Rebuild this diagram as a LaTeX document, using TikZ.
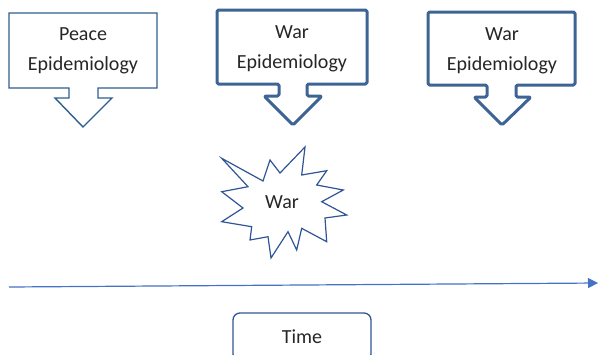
\documentclass[tikz,border=0pt]{standalone}
\usepackage{fontspec}
\setmainfont{Carlito}
\usetikzlibrary{arrows.meta}
\definecolor{calloutblue}{HTML}{2F5F8F}
\definecolor{warblue}{HTML}{3D6494}
\definecolor{burstblue}{HTML}{2F5597}
\definecolor{axisblue}{HTML}{4472C4}
\definecolor{textgray}{HTML}{262626}
\tikzset{
	label/.style={text=textgray,font=\fontsize{20}{30}\selectfont,align=center},
	thincallout/.style={draw=calloutblue,line width=1.4pt,fill=white},
	thickcallout/.style={draw=warblue,line width=3pt,line join=round,rounded corners=1.5pt,fill=white},
	timebox/.style={draw=burstblue,line width=1.3pt,rounded corners=7pt,minimum width=138pt,minimum height=48pt,text=textgray,font=\fontsize{20}{24}\selectfont}
}
\begin{document}
\begin{tikzpicture}[x=1pt,y=-1pt]
	\useasboundingbox (0,0) rectangle (600,354);
	% callouts
	\draw[thincallout] (9,13) -- (157,13) -- (157,88) -- (98,88) -- (98,98) -- (112,98) -- (83,127) -- (55,98) -- (69,98) -- (69,88) -- (9,88) -- cycle;
	\draw[thickcallout] (217,10) -- (367,10) -- (367,84) -- (307,84) -- (307,96) -- (322,96) -- (293,125) -- (264,96) -- (279,96) -- (279,84) -- (217,84) -- cycle;
	\draw[thickcallout] (428,12) -- (575,12) -- (575,85) -- (516,85) -- (516,97) -- (531,97) -- (502,125) -- (474,97) -- (487,97) -- (487,85) -- (428,85) -- cycle;
	\node[label] (peace) at (83,51) {Peace\\Epidemiology};
	\node[label] (war1) at (292,49) {War\\Epidemiology};
	\node[label] (war2) at (502,51) {War\\Epidemiology};
	% explosion
	\draw[burstblue,line width=1.2pt,fill=white] (221.7,158.3) -- (263,181) -- (270,160) -- (280,173) -- (305,147) -- (301.7,175) -- (326.7,170.7) -- (316.7,185) -- (343.3,190) -- (321.7,201.7) -- (346.7,215) -- (325,218) -- (326.7,241.7) -- (301.7,228.3) -- (296.7,250) -- (288,231.7) -- (271,258) -- (268,236.7) -- (250,240) -- (251.7,226.7) -- (221.7,221.7) -- (243,208) -- (221.7,191.7) -- (248,186.7) -- cycle;
	\node[text=textgray,font=\fontsize{20}{24}\selectfont] (war) at (282,202) {War};
	% time axis
	\coordinate (t0) at (9,287);
	\coordinate (t1) at (598,283);
	\draw[axisblue,line width=1.2pt,-{Triangle[length=10pt,width=10pt]}] (t0) -- (t1);
	\node[timebox] (time) at (302,337) {Time};
\end{tikzpicture}
\end{document}
